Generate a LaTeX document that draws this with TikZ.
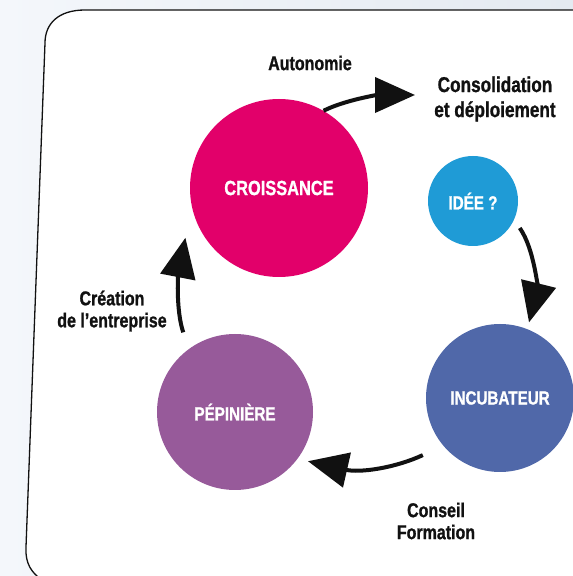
\documentclass[tikz,border=0pt]{standalone}
\usepackage{fontspec}
\setmainfont{Liberation Sans}[FakeStretch=0.8,FakeBold=1]
\usetikzlibrary{arrows.meta,calc}
\definecolor{cMag}{HTML}{E2006A}
\definecolor{cBlue}{HTML}{1F9BD6}
\definecolor{cInc}{HTML}{5068A9}
\definecolor{cPep}{HTML}{975A9A}
\definecolor{bgL}{HTML}{F4F7FB}
\definecolor{bgR}{HTML}{E4EAF1}
\definecolor{ink}{HTML}{111111}
\begin{document}
\begin{tikzpicture}[x=1pt,y=1pt,
  bubble/.style={circle, inner sep=0pt, text=white, font=\bfseries\fontsize{19}{22}\selectfont},
  lab/.style={align=center, inner sep=0pt, text=ink, font=\bfseries\fontsize{20}{22}\selectfont},
  biglab/.style={lab, font=\bfseries\fontsize{21.5}{25}\selectfont},
  flow/.style={line width=4pt, draw=ink, -{Triangle[length=40pt,width=35pt]}}]
\useasboundingbox (0,0) rectangle (573,576);
\begin{scope}
\clip (0,0) rectangle (573,576);
\shade[left color=bgL, right color=bgR] (0,0) rectangle (573,576);
\fill[white] (600,566) -- (85,566) .. controls (58,566) and (45,552) .. (45,533) -- (26,29) .. controls (25,12) and (32,3) .. (42,-4) -- (600,-10) -- cycle;
\draw[line width=1.3pt, draw=ink] (600,566) -- (85,566) .. controls (58,566) and (45,552) .. (45,533) -- (26,29) .. controls (25,12) and (32,3) .. (42,-4);
\end{scope}

\node[bubble, fill=cMag, minimum size=178pt, font=\bfseries\fontsize{20.5}{22}\selectfont] (cro) at (279,388) {CROISSANCE};
\node[bubble, fill=cBlue, minimum size=90pt] (idee) at (473,375) {IDÉE ?};
\node[bubble, fill=cInc, minimum size=148pt] (incub) at (500,178) {INCUBATEUR};
\node[bubble, fill=cPep, minimum size=156pt] (pep) at (235,164) {PÉPINIÈRE};

\node[lab] (auto) at (310,513) {Autonomie};
\node[biglab] (cons) at (495,477) {Consolidation\\et déploiement};
\node[lab] (conseil) at (436,55) {Conseil\\Formation};
\node[lab] (creation) at (112,265) {Création\\de l’entreprise};

\coordinate (autoEnd) at (415,481);
\draw[flow] (cro.60) .. controls (345,476) and (378,481) .. (autoEnd);
\draw[flow] ($(idee)+(-30:54)$) .. controls (535,326) and (537,286) .. ($(incub)+(69:81)$);
\draw[flow] ($(incub)+(216.5:96)$) .. controls (395,108) and (360,103) .. ($(pep)+(-34:88)$);
\draw[flow] ($(pep)+(123:95)$) .. controls (176,265) and (178,300) .. ($(cro)+(208:106)$);
\end{tikzpicture}
\end{document}
